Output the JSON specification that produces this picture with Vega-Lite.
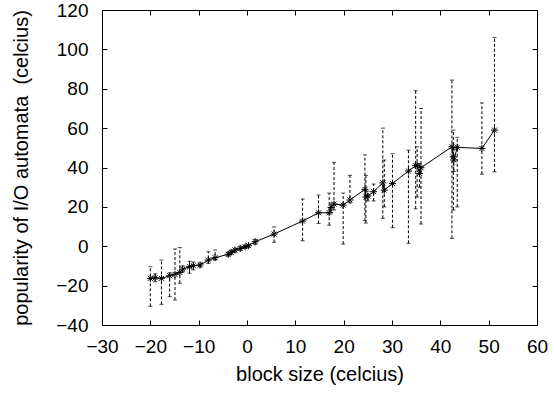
{
  "$schema": "https://vega.github.io/schema/vega-lite/v6.json",
  "width": 435,
  "height": 315,
  "autosize": "none",
  "padding": {"left": 102, "top": 10, "right": 17, "bottom": 68},
  "background": "white",
  "config": {
    "view": {"stroke": "black", "strokeWidth": 1},
    "font": "Liberation Sans",
    "axis": {"grid": false, "domain": false, "tickColor": "black", "labelColor": "black", "titleColor": "black", "labelFont": "Liberation Sans", "titleFont": "Liberation Sans", "labelFontSize": 19, "titleFontSize": 20, "titleFontWeight": "normal", "tickSize": -5, "labelOverlap": false, "labelBound": false, "labelFlush": false}
  },
  "data": {"values": [
    {"x": -20.0, "y": -16.3, "lo": -30.5, "hi": -10.4},
    {"x": -19.0, "y": -16.0, "lo": -18.0, "hi": -14.0},
    {"x": -17.7, "y": -16.3, "lo": -29.5, "hi": -7.0},
    {"x": -16.0, "y": -15.0, "lo": -25.6, "hi": -13.5},
    {"x": -14.9, "y": -14.3, "lo": -27.3, "hi": -1.4},
    {"x": -13.9, "y": -13.3, "lo": -18.8, "hi": -0.7},
    {"x": -13.3, "y": -11.6, "lo": -13.0, "hi": -10.0},
    {"x": -11.9, "y": -10.4, "lo": -13.7, "hi": -7.6},
    {"x": -11.1, "y": -9.9, "lo": -12.0, "hi": -8.0},
    {"x": -9.7, "y": -9.5, "lo": -10.5, "hi": -8.5},
    {"x": -8.0, "y": -7.0, "lo": -8.7, "hi": -2.8},
    {"x": -6.6, "y": -5.8, "lo": -7.0, "hi": -1.9},
    {"x": -3.9, "y": -4.1, "lo": -5.0, "hi": -3.0},
    {"x": -3.3, "y": -3.1, "lo": -4.0, "hi": -2.0},
    {"x": -2.5, "y": -1.9, "lo": -3.0, "hi": -1.0},
    {"x": -1.4, "y": -1.1, "lo": -2.0, "hi": 0.0},
    {"x": -0.4, "y": -0.3, "lo": -1.0, "hi": 0.5},
    {"x": 0.3, "y": 0.3, "lo": -0.5, "hi": 1.0},
    {"x": 1.7, "y": 2.3, "lo": 1.0, "hi": 3.5},
    {"x": 5.6, "y": 6.2, "lo": 2.0, "hi": 9.8},
    {"x": 11.5, "y": 12.8, "lo": 2.8, "hi": 24.0},
    {"x": 14.8, "y": 17.0, "lo": 11.6, "hi": 26.0},
    {"x": 17.0, "y": 17.0, "lo": 10.7, "hi": 27.0},
    {"x": 17.4, "y": 19.7, "lo": 17.0, "hi": 22.0},
    {"x": 18.0, "y": 21.4, "lo": 18.4, "hi": 42.6},
    {"x": 19.9, "y": 20.9, "lo": 1.1, "hi": 27.0},
    {"x": 21.3, "y": 23.5, "lo": 22.0, "hi": 36.0},
    {"x": 24.4, "y": 28.9, "lo": 13.0, "hi": 46.4},
    {"x": 24.6, "y": 25.0, "lo": 11.8, "hi": 36.0},
    {"x": 25.0, "y": 25.5, "lo": 23.0, "hi": 28.0},
    {"x": 26.2, "y": 27.7, "lo": 23.0, "hi": 31.6},
    {"x": 28.1, "y": 32.2, "lo": 14.2, "hi": 60.0},
    {"x": 28.4, "y": 28.5, "lo": 20.0, "hi": 43.8},
    {"x": 30.1, "y": 31.9, "lo": 9.4, "hi": 47.0},
    {"x": 33.4, "y": 38.2, "lo": 1.5, "hi": 48.8},
    {"x": 34.9, "y": 40.9, "lo": 19.0, "hi": 79.0},
    {"x": 35.2, "y": 41.0, "lo": 25.0, "hi": 50.5},
    {"x": 35.7, "y": 37.0, "lo": 30.0, "hi": 42.0},
    {"x": 36.0, "y": 39.9, "lo": 11.3, "hi": 70.0},
    {"x": 42.4, "y": 50.5, "lo": 4.0, "hi": 84.4},
    {"x": 42.7, "y": 45.4, "lo": 18.4, "hi": 59.0},
    {"x": 42.8, "y": 43.8, "lo": 38.0, "hi": 50.0},
    {"x": 43.5, "y": 50.2, "lo": 20.0, "hi": 55.3},
    {"x": 48.6, "y": 49.7, "lo": 36.6, "hi": 72.8},
    {"x": 51.2, "y": 59.0, "lo": 37.8, "hi": 106.0}
  ]},
  "layer": [
    {
      "mark": {"type": "rule", "color": "black", "strokeWidth": 1, "strokeDash": [3, 2]},
      "encoding": {
        "x": {"field": "x", "type": "quantitative", "scale": {"domain": [-30, 60], "nice": false, "zero": false},
              "axis": {"orient": "bottom", "values": [-30, -20, -10, 0, 10, 20, 30, 40, 50, 60], "title": "block size (celcius)", "labelPadding": 17, "titlePadding": 8}},
        "y": {"field": "lo", "type": "quantitative", "scale": {"domain": [-40, 120], "nice": false, "zero": false},
              "axis": {"orient": "left", "values": [-40, -20, 0, 20, 40, 60, 80, 100, 120], "title": "popularity of I/O automata \u00a0(celcius)", "labelPadding": 19, "titlePadding": 24}},
        "y2": {"field": "hi"}
      }
    },
    {
      "mark": {"type": "tick", "orient": "horizontal", "color": "black", "size": 4, "thickness": 1},
      "encoding": {
        "x": {"field": "x", "type": "quantitative", "axis": {"orient": "top", "values": [-30, -20, -10, 0, 10, 20, 30, 40, 50, 60], "labels": false, "title": null}},
        "y": {"field": "lo", "type": "quantitative", "axis": {"orient": "right", "values": [-40, -20, 0, 20, 40, 60, 80, 100, 120], "labels": false, "title": null}}
      }
    },
    {
      "mark": {"type": "tick", "orient": "horizontal", "color": "black", "size": 4, "thickness": 1},
      "encoding": {
        "x": {"field": "x", "type": "quantitative", "axis": null},
        "y": {"field": "hi", "type": "quantitative", "axis": null}
      }
    },
    {
      "mark": {"type": "line", "color": "black", "strokeWidth": 1},
      "encoding": {
        "x": {"field": "x", "type": "quantitative", "axis": null},
        "y": {"field": "y", "type": "quantitative", "axis": null}
      }
    },
    {
      "mark": {"type": "point", "shape": "M-1,0L1,0M0,-1L0,1M-0.7,-0.7L0.7,0.7M-0.7,0.7L0.7,-0.7", "filled": false, "color": "black", "strokeWidth": 1, "size": 50, "opacity": 1},
      "encoding": {
        "x": {"field": "x", "type": "quantitative", "axis": null},
        "y": {"field": "y", "type": "quantitative", "axis": null}
      }
    }
  ],
  "resolve": {"axis": {"x": "independent", "y": "independent"}}
}
